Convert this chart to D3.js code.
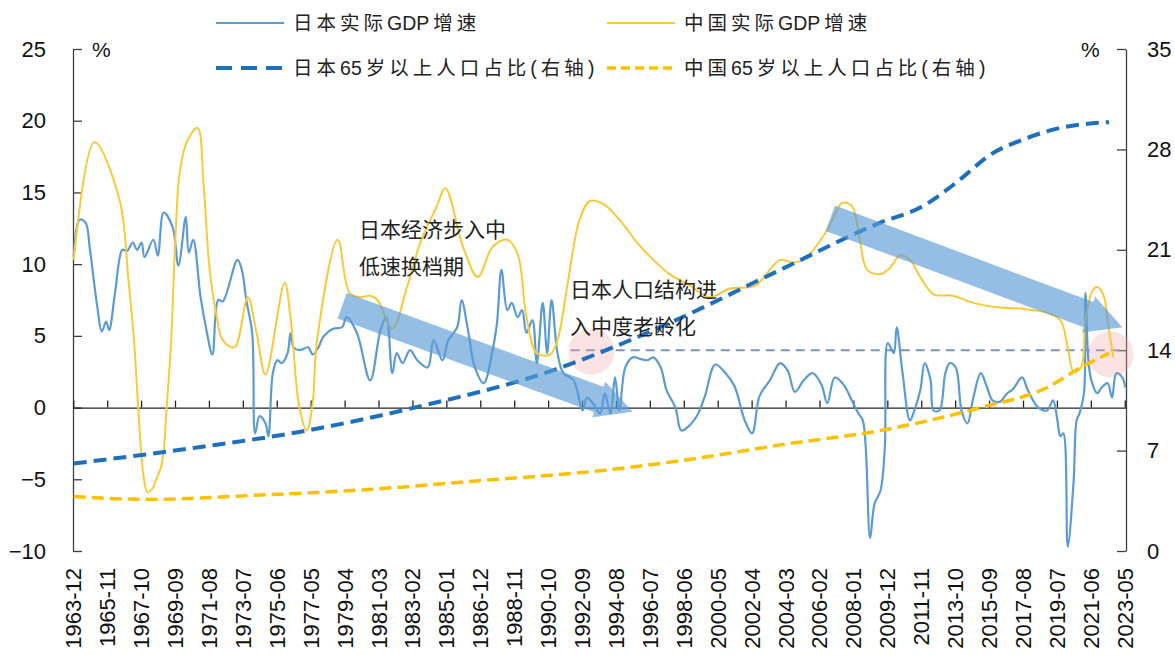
<!DOCTYPE html>
<html>
<head>
<meta charset="utf-8">
<script src="https://cdn.jsdelivr.net/npm/d3@7"></script>
<style>
  html, body { margin: 0; padding: 0; background: #fff; }
  svg { display: block; }
</style>
</head>
<body>
<svg id="chart" width="1175" height="655"></svg>
<script>
// ---- data -------------------------------------------------------------
// Japan real GDP growth, % y/y (left axis)
const jpGdpDates = ["1963-12","1964-04","1964-08","1964-11","1965-04","1965-07","1965-10","1965-12","1966-04","1966-09","1966-12","1967-04","1967-07","1967-10","1967-12","1968-06","1968-09","1969-01","1969-07","1969-11","1970-04","1970-06","1970-09","1971-02","1971-06","1971-10","1972-02","1972-05","1973-03","1973-06","1973-09","1974-01","1974-03","1974-06","1974-10","1974-12","1975-03","1975-06","1975-09","1976-01","1976-03","1976-05","1976-09","1977-03","1977-06","1977-10","1978-01","1978-08","1979-02","1979-05","1979-12","1980-09","1981-04","1981-08","1981-12","1982-03","1982-07","1982-12","1983-05","1983-12","1984-04","1984-10","1985-02","1985-08","1985-11","1986-03","1986-08","1987-02","1987-08","1987-11","1988-02","1988-06","1988-09","1989-01","1989-04","1989-07","1989-11","1990-02","1990-06","1990-09","1990-12","1991-04","1991-08","1992-03","1992-09","1992-12","1993-04","1993-09","1993-12","1994-04","1994-07","1994-10","1995-02","1995-07","1995-12","1996-05","1996-09","1997-02","1997-06","1997-12","1998-04","1998-10","1999-03","1999-08","2000-03","2000-10","2001-04","2001-11","2002-04","2002-09","2003-04","2003-11","2004-04","2004-09","2005-03","2005-09","2006-03","2006-07","2006-12","2007-06","2007-12","2008-04","2008-07","2008-09","2008-12","2009-03","2009-07","2009-10","2009-12","2010-04","2010-06","2010-10","2011-03","2011-06","2011-10","2012-01","2012-05","2012-07","2012-11","2013-03","2013-06","2013-10","2014-02","2014-06","2014-10","2015-03","2015-07","2015-11","2016-04","2016-09","2017-01","2017-07","2017-11","2018-06","2018-12","2019-04","2019-07","2019-09","2019-11","2020-02","2020-06","2020-08","2020-10","2021-01","2021-02","2021-04","2021-06","2021-10","2022-01","2022-05","2022-08","2022-11","2023-03","2023-05"];
const jpGdpValues = [10.5,13.1,12.9,11.0,7.0,5.3,6.0,5.4,8.0,11.0,10.9,11.5,11.0,11.5,10.5,11.7,10.6,13.6,12.6,9.9,13.3,10.8,11.7,7.7,5.4,3.7,7.5,7.4,10.3,9.6,7.5,5.2,-1.8,-0.6,-1.1,-2.0,2.4,3.3,3.1,3.8,5.2,4.2,4.0,4.2,3.7,4.2,4.9,5.5,5.6,6.3,5.2,1.9,5.4,6.3,2.4,3.8,3.1,4.0,3.3,2.8,4.7,3.3,4.7,5.6,7.5,5.6,2.8,1.7,4.0,5.9,9.6,6.8,7.3,6.3,6.8,5.2,6.1,3.1,7.3,3.8,7.5,3.8,2.4,1.9,-0.2,0.7,0.3,-0.4,1.0,-0.4,2.1,-0.2,2.8,3.5,3.4,3.3,3.5,2.8,1.2,0.0,-1.6,-1.2,-0.5,0.8,3.0,2.4,1.5,-0.9,-1.8,0.8,1.9,3.1,2.6,1.1,1.9,2.4,1.6,0.3,2.1,1.6,0.4,-0.4,-0.9,-2.7,-9.1,-6.7,-5.8,-2.7,4.5,3.8,5.6,2.4,-0.9,-0.2,1.2,3.1,1.9,-0.2,-0.2,2.4,3.1,2.8,-0.2,-1.1,0.7,2.4,1.5,0.5,0.4,1.0,1.3,2.1,1.2,0.0,-0.2,0.5,-0.9,-2.0,-1.8,-9.7,-5.1,-0.9,-0.4,1.0,8.0,3.3,1.9,1.0,1.4,1.7,0.7,2.4,2.1,1.4];

// China real GDP growth, % y/y (left axis)
const cnGdpDates = ["1963-12","1965-02","1966-07","1967-01","1967-05","1967-08","1967-11","1968-02","1968-05","1968-08","1968-11","1969-01","1969-03","1969-06","1969-09","1969-12","1970-05","1970-12","1971-04","1971-08","1972-01","1972-05","1973-01","1973-10","1974-04","1974-10","1975-11","1976-03","1976-09","1977-02","1977-06","1977-09","1978-11","1979-07","1980-02","1980-09","1981-02","1981-12","1982-10","1983-07","1984-06","1984-12","1985-12","1986-10","1987-08","1988-06","1989-01","1989-07","1990-02","1990-11","1991-04","1991-11","1992-07","1993-02","1993-11","1994-10","1995-10","1996-09","1997-08","1998-10","1999-11","2001-01","2002-06","2003-11","2004-08","2005-05","2006-07","2007-04","2007-07","2007-12","2008-05","2008-10","2009-07","2010-02","2010-08","2011-03","2011-10","2012-07","2013-08","2014-10","2016-02","2017-06","2018-12","2019-09","2020-02","2020-06","2020-11","2021-02","2021-07","2021-10","2022-02","2022-06","2022-09"];
const cnGdpValues = [10.3,18.5,14.5,9.0,4.5,-0.5,-4.5,-5.9,-5.7,-5.0,-4.2,-3.0,0.0,4.5,12.0,16.5,18.6,19.5,15.6,9.8,6.3,4.7,4.2,7.7,5.2,2.3,8.7,6.3,0.0,-1.6,0.3,4.7,11.7,8.0,7.7,7.8,7.5,5.5,8.4,11.5,14.0,15.3,11.2,9.1,11.2,11.7,10.7,6.3,3.8,3.7,4.7,8.7,13.1,14.4,14.2,13.1,11.5,10.3,9.3,8.5,7.7,8.3,8.5,10.3,10.1,10.5,12.4,14.2,14.3,14.0,11.7,9.6,9.3,9.8,10.6,10.3,9.1,7.9,7.8,7.3,7.0,6.9,6.6,6.1,4.2,2.5,2.8,6.1,8.2,8.4,7.9,5.4,3.5];

// Share of population aged 65+, % (right axis)
const jpAgedDates  = ["1963-12","1971-02","1976-09","1983-02","1991-01","1997-08","2003-11","2009-07","2011-11","2014-01","2015-09","2017-08","2019-09","2022-06"];
const jpAgedValues = [6.1,7.25,8.3,9.97,12.6,15.9,19.6,22.9,24.0,25.9,27.6,28.7,29.5,29.9];
const cnAgedDates  = ["1963-12","1968-02","1974-06","1980-02","1986-11","1993-09","1999-05","2003-11","2009-07","2015-03","2018-12","2020-11","2022-06"];
const cnAgedValues = [3.8,3.6,3.9,4.25,4.9,5.6,6.5,7.4,8.4,10.0,11.4,12.8,13.8];

// 14% aged 65+ marks an "aged society"
const agedThreshold = 14;
const thresholdFrom = "1992-01";

// axes
const leftTicks  = [-10, -5, 0, 5, 10, 15, 20, 25];
const rightTicks = [0, 7, 14, 21, 28, 35];
const xTickLabels = ["1963-12","1965-11","1967-10","1969-09","1971-08","1973-07","1975-06","1977-05","1979-04","1981-03","1983-02","1985-01","1986-12","1988-11","1990-10","1992-09","1994-08","1996-07","1998-06","2000-05","2002-04","2004-03","2006-02","2008-01","2009-12","2011-11","2013-10","2015-09","2017-08","2019-07","2021-06","2023-05"];

// trend arrows: [from date, from value, to date, to value] on the left axis
const trendArrows = [
  ["1979-02", 7.1, "1995-07", -0.3],
  ["2006-09", 13.2, "2023-03", 5.6]
];
// highlighted crossings of the 14% line (right axis)
const crossDates = ["1993-03", "2022-07"];
const crossValues = [13.9, 13.7];

const notes = [
  { lines: ["日本经济步入中", "低速换档期"], x: 359, y: 228 },
  { lines: ["日本人口结构进", "入中度老龄化"], x: 570, y: 288 }
];

const legendItems = [
  { label: "日本实际GDP增速", color: "#5b9bd5", dash: null, width: 2 },
  { label: "中国实际GDP增速", color: "#f9c93a", dash: null, width: 2 },
  { label: "日本65岁以上人口占比(右轴)", color: "#1f6fbf", dash: "16,9", width: 4 },
  { label: "中国65岁以上人口占比(右轴)", color: "#ffc000", dash: "9,5", width: 3.5 }
];

// ---- layout ------------------------------------------------------------
const svg = d3.select("#chart");
const plotLeft = 73, plotRight = 1126, plotTop = 49, plotBottom = 551;
const latin = "'Liberation Sans', Arial, 'Noto Sans CJK SC', sans-serif";

const months = d3.range(714).map(i => {
  const t = 1963 * 12 + 11 + i;
  return `${Math.floor(t / 12)}-${String(t % 12 + 1).padStart(2, "0")}`;
});

const x = d3.scaleBand().domain(months).range([plotLeft, plotRight]);
const xc = d => x(d) + x.bandwidth() / 2;
const yL = d3.scaleLinear().domain([-10, 25]).range([plotBottom, plotTop]);
const yR = d3.scaleLinear().domain([0, 35]).range([plotBottom, plotTop]);

// ---- axes ----------------------------------------------------------------
const gL = svg.append("g").attr("transform", `translate(${plotLeft},0)`)
  .call(d3.axisLeft(yL).tickValues(leftTicks).tickSize(-9).tickSizeOuter(0).tickPadding(27));
const gR = svg.append("g").attr("transform", `translate(${plotRight},0)`)
  .call(d3.axisRight(yR).tickValues(rightTicks).tickSize(-9).tickSizeOuter(0).tickPadding(21));
[gL, gR].forEach(g => {
  g.selectAll("path,line").attr("stroke", "#404040").attr("stroke-width", 1.3);
  g.selectAll("text").attr("font-family", latin).attr("font-size", 22).attr("fill", "#111");
});

const gX = svg.append("g").attr("transform", `translate(0,${yL(0)})`)
  .call(d3.axisTop(x).tickValues(xTickLabels).tickSize(7).tickSizeOuter(0).tickFormat(""));
gX.selectAll("path,line").attr("stroke", "#222").attr("stroke-width", 1.3);

svg.append("g").selectAll("text").data(xTickLabels).join("text")
  .attr("transform", d => `translate(${xc(d)},568) rotate(-90)`)
  .attr("text-anchor", "end")
  .attr("dominant-baseline", "central")
  .attr("font-family", latin).attr("font-size", 22).attr("fill", "#111")
  .text(d => d);

// unit marks
svg.append("text").attr("x", 92).attr("y", 57).attr("font-family", latin)
  .attr("font-size", 21).attr("fill", "#111").text("%");
svg.append("text").attr("x", 1081).attr("y", 57).attr("font-family", latin)
  .attr("font-size", 21).attr("fill", "#111").text("%");

// ---- threshold line and highlight circles --------------------------------
svg.append("line")
  .attr("x1", xc(thresholdFrom)).attr("x2", xc(months[months.length - 1]))
  .attr("y1", yR(agedThreshold)).attr("y2", yR(agedThreshold))
  .attr("stroke", "#7b93c2").attr("stroke-width", 2).attr("stroke-dasharray", "9,6");

svg.append("g").selectAll("circle").data(crossDates).join("circle")
  .attr("cx", d => xc(d)).attr("cy", (d, i) => yR(crossValues[i])).attr("r", 23)
  .attr("fill", "#f3a9a9").attr("fill-opacity", 0.32);

// ---- series --------------------------------------------------------------
const toPts = (dates, values) => dates.map((d, i) => [d, values[i]]);
const lineL = d3.line().x(d => xc(d[0])).y(d => yL(d[1])).curve(d3.curveCatmullRom.alpha(0.5));
const lineR = d3.line().x(d => xc(d[0])).y(d => yR(d[1])).curve(d3.curveMonotoneX);

svg.append("path").datum(toPts(jpGdpDates, jpGdpValues)).attr("d", lineL)
  .attr("fill", "none").attr("stroke", "#5b9bd5").attr("stroke-width", 2.2).attr("stroke-linejoin", "round");
svg.append("path").datum(toPts(cnGdpDates, cnGdpValues)).attr("d", lineL)
  .attr("fill", "none").attr("stroke", "#f9c93a").attr("stroke-width", 2).attr("stroke-linejoin", "round");
svg.append("path").datum(toPts(jpAgedDates, jpAgedValues)).attr("d", lineR)
  .attr("fill", "none").attr("stroke", "#1f6fbf").attr("stroke-width", 4).attr("stroke-dasharray", "13,7");
svg.append("path").datum(toPts(cnAgedDates, cnAgedValues)).attr("d", lineR)
  .attr("fill", "none").attr("stroke", "#ffc000").attr("stroke-width", 3.5).attr("stroke-dasharray", "12,6");

// ---- trend arrows --------------------------------------------------------
const bodyHalf = 13.5, headHalf = 19, headLen = 36;
trendArrows.forEach(([d0, v0, d1, v1]) => {
  const x0 = xc(d0), y0 = yL(v0), x1 = xc(d1), y1 = yL(v1);
  const len = Math.hypot(x1 - x0, y1 - y0);
  const ang = Math.atan2(y1 - y0, x1 - x0) * 180 / Math.PI;
  const shape = [[0, -bodyHalf], [len - headLen, -bodyHalf], [len - headLen, -headHalf], [len, 0],
                 [len - headLen, headHalf], [len - headLen, bodyHalf], [0, bodyHalf]];
  svg.append("polygon")
    .attr("points", shape.map(p => p.join(",")).join(" "))
    .attr("transform", `translate(${x0},${y0}) rotate(${ang})`)
    .attr("fill", "#5b9bd5").attr("fill-opacity", 0.65);
});

// ---- notes ---------------------------------------------------------------
notes.forEach(n => {
  n.lines.forEach((t, i) => {
    svg.append("text").attr("x", n.x).attr("y", n.y + i * 37)
      .attr("dominant-baseline", "central")
      .attr("font-family", "'Noto Sans CJK SC', sans-serif")
      .attr("font-size", 21).attr("fill", "#222").text(t);
  });
});

// ---- legend --------------------------------------------------------------
// CJK characters are set loosely, latin runs (GDP, 65) stay tight
const cjkGap = 4;
const legendPos = [[216, 23], [607, 23], [216, 68], [607, 68]];
legendItems.forEach((it, i) => {
  const [lx, ly] = legendPos[i];
  svg.append("line").attr("x1", lx).attr("x2", lx + 68).attr("y1", ly).attr("y2", ly)
    .attr("stroke", it.color).attr("stroke-width", it.width)
    .attr("stroke-dasharray", it.dash);
  const txt = svg.append("text").attr("x", lx + 77).attr("y", ly)
    .attr("dominant-baseline", "central")
    .attr("font-family", "'Liberation Sans', 'Noto Sans CJK SC', sans-serif")
    .attr("font-size", 19.5).attr("fill", "#222");
  const runs = it.label.match(/[A-Za-z0-9]+|[^A-Za-z0-9]/g);
  let prevLatin = false;
  runs.forEach(r => {
    const isLatin = /^[A-Za-z0-9]+$/.test(r);
    txt.append("tspan")
      .attr("dx", prevLatin ? cjkGap : null)
      .attr("letter-spacing", isLatin ? 0 : cjkGap)
      .text(r);
    prevLatin = isLatin;
  });
});
</script>
</body>
</html>
